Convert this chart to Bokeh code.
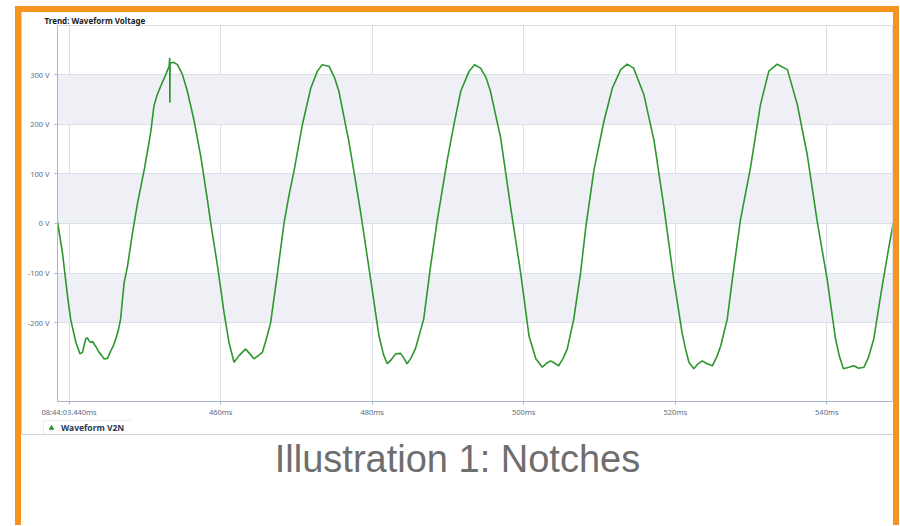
from bokeh.plotting import figure
from bokeh.models import Range1d, FixedTicker, Legend, LegendItem, Div, Spacer
from bokeh.layouts import column, row
from bokeh.embed import file_html
from bokeh.resources import INLINE

# ---------------- data ----------------
time_ms = [
    438.47, 439.13, 439.8, 440.2, 440.9, 441.45, 441.77, 442.0, 442.2, 442.4,
    442.6, 442.86, 443.1, 443.3, 443.6, 443.96, 444.3, 444.6, 445.07, 445.5,
    445.8, 446.16, 446.5, 446.8, 447.0, 447.26, 447.7, 448.36, 449.02, 449.9,
    450.4, 450.8, 451.2, 451.6, 452.1, 452.76, 453.2, 453.28, 453.3, 453.33,
    453.77, 454.3, 454.96, 455.6, 456.5, 457.4, 458.26, 458.7, 459.6, 460.45,
    461.1, 461.77, 462.4, 463.3, 463.8, 464.4, 465.0, 465.5, 466.0, 466.6,
    467.5, 468.36, 469.0, 469.7, 470.8, 471.9, 472.77, 473.4, 474.3, 475.0,
    475.6, 476.9, 477.7, 478.5, 479.8, 480.9, 481.5, 482.0, 482.5, 483.1,
    483.76, 484.2, 484.6, 485.1, 485.7, 486.8, 487.7, 488.6, 489.9, 490.8,
    491.7, 492.8, 493.5, 494.3, 495.0, 495.6, 496.95, 498.27, 499.6, 500.7,
    501.6, 502.45, 503.0, 503.55, 504.1, 504.6, 505.2, 505.75, 506.6, 507.5,
    508.2, 509.26, 510.6, 511.7, 512.8, 513.66, 514.5, 515.85, 517.2, 518.5,
    519.8, 520.9, 521.35, 521.8, 522.45, 523.0, 523.56, 524.2, 524.9, 525.5,
    526.0, 526.86, 527.7, 528.6, 529.9, 531.25, 532.35, 533.45, 534.8, 536.1,
    537.4, 538.7, 540.05, 541.15, 541.7, 542.2, 542.9, 543.55, 544.2, 544.9,
    545.5, 546.2, 547.3, 548.2, 548.8,
]
voltage_v = [
    3, -60, -147, -193, -240, -263, -260, -245, -233, -230,
    -236, -240, -238, -243, -250, -260, -266, -273, -272, -257,
    -248, -233, -215, -193, -160, -120, -87, -20, 40, 107,
    150, 187, 237, 258, 277, 300, 317, 334, 244, 323,
    325, 320, 300, 267, 207, 133, 47, 0, -87, -180,
    -240, -280, -267, -253, -262, -273, -266, -260, -235, -200,
    -100, 0, 55, 107, 200, 273, 307, 320, 317, 295,
    267, 167, 95, 20, -113, -227, -265, -283, -275, -263,
    -262, -272, -283, -272, -253, -193, -87, 7, 127, 200,
    267, 307, 320, 313, 295, 267, 173, 33, -100, -227,
    -273, -290, -282, -277, -282, -287, -272, -253, -193, -100,
    -7, 107, 207, 273, 310, 321, 313, 260, 167, 33,
    -113, -220, -253, -280, -293, -283, -277, -283, -287, -268,
    -247, -193, -93, 7, 110, 240, 307, 321, 310, 240,
    140, 7, -113, -233, -270, -293, -290, -287, -292, -290,
    -270, -233, -127, -47, 3,
]
x_ticks = [440, 460, 480, 500, 520, 540]
x_tick_labels = ["08:44:03.440ms", "460ms", "480ms", "500ms", "520ms", "540ms"]
y_ticks = [-200, -100, 0, 100, 200, 300]
y_tick_labels = ["-200 V", "-100 V", "0 V", "100 V", "200 V", "300 V"]
series_name = "Waveform V2N"
chart_title = "Trend: Waveform Voltage"
caption_text = "Illustration 1: Notches"

# ---------------- styles ----------------
GREEN = "#2E962E"
ORANGE = "#F7941D"
AXIS = "#A9B5CB"
GRID = "#DADFE8"
BAND = "#EEF0F5"
LABEL = "#5E6C84"
PANEL = "#C9D1DE"
FONT = "Noto Sans"

# chart: page x 22..893, y 12..419
p = figure(width=871, height=407, output_backend="svg", toolbar_location=None,
           x_range=Range1d(438.47, 548.67), y_range=Range1d(-359, 399),
           min_border_left=35, min_border_right=1, min_border_top=12,
           min_border_bottom=16, margin=0)
p.background_fill_color = "white"
p.border_fill_color = "white"
p.outline_line_color = GRID

p.line(time_ms, voltage_v, line_color=GREEN, line_width=1.6)

# title
p.title.text = chart_title
p.title.align = "left"
p.title.offset = -13
p.title.standoff = 0
p.title.text_line_height = 1.0
p.title.text_font = FONT
p.title.text_font_size = "8px"
p.title.text_font_style = "bold"
p.title.text_color = "#1B1B1B"

# axes
p.xaxis.ticker = FixedTicker(ticks=x_ticks)
p.xaxis.major_label_overrides = dict(zip(x_ticks, x_tick_labels))
p.yaxis.ticker = FixedTicker(ticks=y_ticks)
p.yaxis.major_label_overrides = dict(zip(y_ticks, y_tick_labels))
for ax in (p.xaxis[0], p.yaxis[0]):
    ax.axis_line_color = AXIS
    ax.major_tick_line_color = AXIS
    ax.minor_tick_line_color = None
    ax.major_tick_in = 0
    ax.major_tick_out = 3
    ax.major_label_text_font = FONT
    ax.major_label_text_font_size = "7.5px"
    ax.major_label_text_line_height = 1.0
    ax.major_label_text_color = LABEL
p.xaxis.major_label_standoff = 2
p.yaxis.major_label_standoff = 5

p.xgrid.grid_line_color = GRID
p.ygrid.grid_line_color = GRID
p.ygrid.band_fill_color = BAND
p.ygrid.band_fill_alpha = 1.0

# legend strip: a small figure that only holds the legend (page x 42..131)
lg = figure(width=89, height=15, output_backend="svg", toolbar_location=None,
            x_range=Range1d(0, 1), y_range=Range1d(0, 1),
            x_axis_location=None, y_axis_location=None, min_border=0, margin=0)
lg.outline_line_color = None
lg.background_fill_color = "white"
lg.border_fill_color = "white"
# the series' first sample lies outside this strip's ranges: only the legend icon shows
marker = lg.scatter(x=time_ms[:1], y=voltage_v[:1], marker="triangle",
                    size=7, color=GREEN)
legend = Legend(items=[LegendItem(label=series_name, renderers=[marker])],
                location="top_left", margin=1, padding=1, spacing=0,
                glyph_width=12, glyph_height=11, label_standoff=4,
                label_width=69, label_height=9, label_text_font=FONT,
                label_text_font_size="8.5px", label_text_font_style="bold",
                label_text_color="#2B3950", border_line_color="#D3D9E3",
                background_fill_color="white", background_fill_alpha=1.0)
lg.add_layout(legend)

# chart panel frame line and caption below it
panel_left = Div(width=1, height=422, margin=0, styles={"background-color": PANEL})
panel_bottom = Div(width=871, height=1, margin=0,
                   styles={"background-color": PANEL})
caption = Div(text=caption_text, width=871, height=78, margin=0,
              styles={"font-family": "'Liberation Sans', Arial, sans-serif",
                      "font-size": "38px", "color": "#6E6E6E",
                      "text-align": "center", "line-height": "1.15",
                      "padding-top": "3px", "background-color": "white"})

# orange document frame
top_bar = Div(width=884, height=6, margin=0, styles={"background-color": ORANGE})
left_bar = Div(width=6, height=513, margin=0, styles={"background-color": ORANGE})
right_bar = Div(width=6, height=513, margin=0, styles={"background-color": ORANGE})

inner = column(p, row(Spacer(width=20, height=15, margin=0), lg),
               panel_bottom, caption)
layout = column(
    Spacer(width=899, height=6, margin=0),
    row(Spacer(width=15, height=6, margin=0), top_bar),
    row(Spacer(width=15, height=513, margin=0), left_bar, panel_left, inner,
        right_bar),
)

open("out.html", "w").write(file_html(layout, INLINE))
